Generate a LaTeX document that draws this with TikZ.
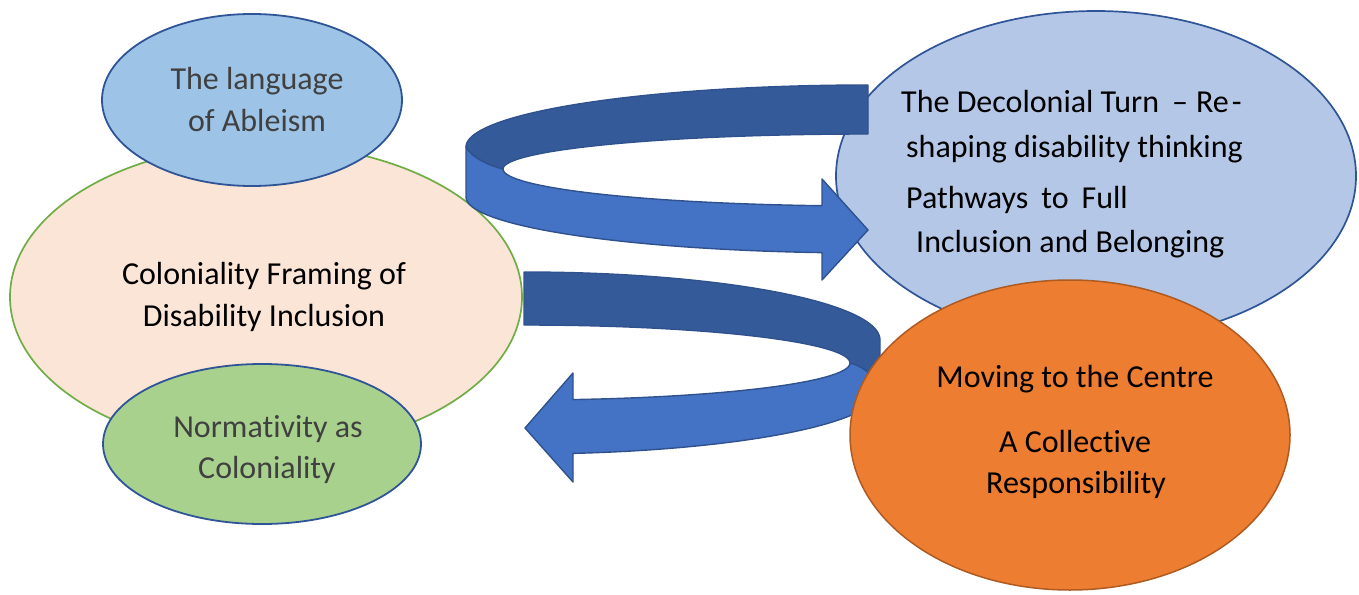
\documentclass[tikz,border=0pt]{standalone}
\usepackage{fontspec}
\setmainfont{Carlito}[Ligatures=NoCommon]
\usetikzlibrary{shapes.geometric}

\definecolor{peachfill}{HTML}{FBE5D6}
\definecolor{peachline}{HTML}{70AD47}
\definecolor{skyfill}{HTML}{9DC3E6}
\definecolor{palefill}{HTML}{B4C7E7}
\definecolor{leaffill}{HTML}{A9D18E}
\definecolor{navyline}{HTML}{2F5597}
\definecolor{orangefill}{HTML}{ED7D31}
\definecolor{orangeline}{HTML}{AE5A21}
\definecolor{bandfront}{HTML}{4472C4}
\definecolor{bandback}{HTML}{355A99}
\definecolor{bandline}{HTML}{2F528F}
\definecolor{greytext}{HTML}{404040}

\begin{document}
\begin{tikzpicture}[x=1pt,y=-1pt,
  oval/.style={ellipse, inner sep=0pt, line width=1.8pt},
  lbl/.style={font=\fontsize{32}{38}\selectfont, inner sep=0pt, anchor=base},
  lblw/.style={lbl, anchor=base west},
  front/.style={fill=bandfront, draw=bandline, line width=1.4pt, line join=round},
  back/.style={fill=bandback, draw=bandline, line width=1.4pt, line join=round}]

\useasboundingbox (0,0) rectangle (1359,594);

% left cluster
\node[oval, fill=peachfill, draw=peachline, line width=1.7pt,
      minimum width=512pt, minimum height=306pt] (frame) at (266,297) {};
\node[oval, fill=skyfill, draw=navyline,
      minimum width=300pt, minimum height=172pt] (ableism) at (252,100) {};
\node[oval, fill=leaffill, draw=navyline,
      minimum width=318pt, minimum height=160pt] (norm) at (262,444) {};

\node[lbl, text=greytext] (ab1) at (257,89) {The language};
\node[lbl, text=greytext] (ab2) at (257,131) {of Ableism};
\node[lbl] (fr1) at (264,284) {Coloniality Framing of};
\node[lbl] (fr2) at (264,326) {Disability Inclusion};
\node[lbl, text=greytext] (no1) at (268,437) {Normativity as};
\node[lbl, text=greytext] (no2) at (267,478) {Coloniality};

% right cluster, upper oval
\node[oval, fill=palefill, draw=navyline, line width=1.7pt,
      minimum width=520pt, minimum height=330pt] (turn) at (1096,176) {};
\node[lblw] (tu1) at (901,112) {The Decolonial Turn\hspace{13pt}\textendash\hspace{8pt}Re\hspace{3pt}-};
\node[lblw] (tu2) at (906,157) {shaping disability thinking};
\node[lblw] (tu3) at (906,208) {Pathways\hspace{13pt}to\hspace{13pt}Full};
\node[lblw] (tu4) at (916,252) {Inclusion and Belonging};

% upper curved arrow: back face, then front face with head
\path[back]
  plot[domain=270:180, samples=60] ({868+402*cos(\x)},{147+62*sin(\x)})
  .. controls (472,158) and (488,165) .. (503,169)
  -- plot[domain=180:270, samples=60] ({868+365*cos(\x)},{169+35*sin(\x)})
  -- cycle;
\path[front]
  (466,147) -- (466,197)
  -- plot[domain=180:96.57, samples=60] ({868+402*cos(\x)},{197+56*sin(\x)})
  -- (822,280) -- (868,230) -- (822,179)
  -- plot[domain=97.24:180, samples=60] ({868+365*cos(\x)},{169+37*sin(\x)})
  .. controls (488,165) and (472,158) .. (466,147) -- cycle;

% lower curved arrow: back face, then front face with head
\path[back]
  plot[domain=270:360, samples=60] ({524+356*cos(\x)},{340+68*sin(\x)})
  -- (880,390) .. controls (875,375) and (862,366) .. (850,363)
  -- plot[domain=360:270, samples=60] ({524+326*cos(\x)},{363+38*sin(\x)})
  -- cycle;
\path[front]
  (850,363) .. controls (862,366) and (875,375) .. (880,390)
  -- plot[domain=0:82.09, samples=60] ({524+356*cos(\x)},{390+64*sin(\x)})
  -- (573,482) -- (525,428) -- (573,373)
  -- plot[domain=81.35:0, samples=60] ({524+326*cos(\x)},{363+37*sin(\x)})
  -- cycle;

% right cluster, lower oval
\node[oval, fill=orangefill, draw=orangeline, line width=1.5pt,
      minimum width=440pt, minimum height=310pt] (centre) at (1070,435) {};
\node[lbl] (ce1) at (1075,387) {Moving to the Centre};
\node[lbl] (ce2) at (1075,452) {A Collective};
\node[lbl] (ce3) at (1076,493) {Responsibility};

\end{tikzpicture}
\end{document}
